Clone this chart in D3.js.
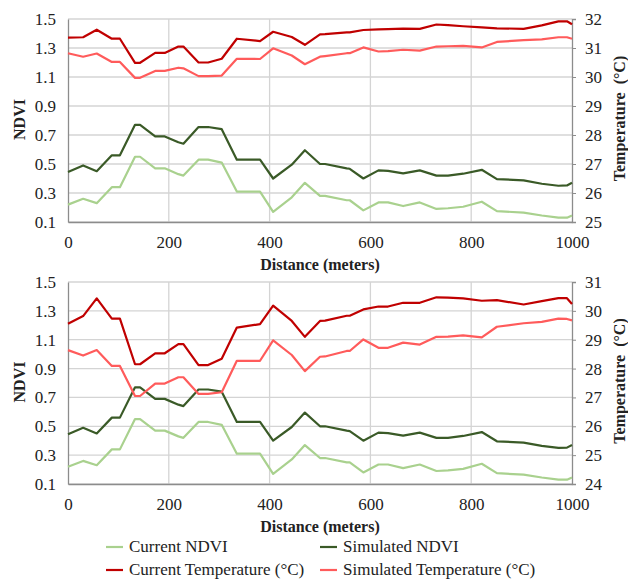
<!DOCTYPE html>
<html>
<head>
<meta charset="utf-8">
<script src="https://cdn.jsdelivr.net/npm/d3@7"></script>
<style>
    body { margin: 0; background: #fff; }
    svg text { font-family: 'Liberation Serif', 'DejaVu Serif', serif !important; fill: #222; }
</style>
</head>
<body>
<svg id="chart" width="628" height="584"></svg>
<script>
// - - - - - - - - - -
// data
// - - - - - - - - - -
const distance = [0, 30, 57, 87, 103, 133, 143, 173, 192, 219, 229, 259, 278, 305, 335, 381, 407, 444, 470, 500,
    510, 553, 559, 586, 616, 635, 665, 698, 731, 754, 784, 821, 851, 904, 940, 973, 990, 1000];

const currentNDVI = [0.22, 0.26, 0.23, 0.34, 0.34, 0.55, 0.55, 0.47, 0.47, 0.43, 0.42, 0.53, 0.53, 0.51, 0.31, 0.31, 0.17, 0.27, 0.37, 0.28,
    0.28, 0.25, 0.25, 0.18, 0.235, 0.235, 0.21, 0.235, 0.19, 0.195, 0.205, 0.24, 0.175, 0.165, 0.145, 0.13, 0.13, 0.145];

const simulatedNDVI = [0.445, 0.49, 0.45, 0.56, 0.56, 0.77, 0.77, 0.69, 0.69, 0.65, 0.64, 0.755, 0.755, 0.74, 0.53, 0.53, 0.40, 0.495, 0.595, 0.50,
    0.50, 0.47, 0.467, 0.40, 0.456, 0.453, 0.435, 0.456, 0.42, 0.42, 0.433, 0.46, 0.396, 0.387, 0.364, 0.35, 0.352, 0.37];

// top panel temperatures
const currentTempA = [31.36, 31.37, 31.63, 31.32, 31.32, 30.49, 30.49, 30.83, 30.83, 31.05, 31.05, 30.50, 30.50, 30.63, 31.32, 31.24, 31.56, 31.38, 31.11, 31.47,
    31.48, 31.54, 31.54, 31.62, 31.64, 31.65, 31.67, 31.66, 31.81, 31.79, 31.75, 31.71, 31.68, 31.66, 31.78, 31.92, 31.92, 31.82];
const simulatedTempA = [30.82, 30.70, 30.81, 30.52, 30.52, 29.97, 29.97, 30.21, 30.21, 30.32, 30.30, 30.03, 30.03, 30.05, 30.63, 30.62, 30.99, 30.74, 30.44, 30.70,
    30.72, 30.82, 30.82, 31.02, 30.88, 30.89, 30.94, 30.91, 31.05, 31.06, 31.07, 31.02, 31.21, 31.27, 31.30, 31.37, 31.37, 31.32];

// bottom panel temperatures
const currentTempB = [29.55, 29.82, 30.43, 29.73, 29.73, 28.15, 28.15, 28.53, 28.53, 28.85, 28.85, 28.12, 28.12, 28.34, 29.42, 29.54, 30.18, 29.65, 29.10, 29.65,
    29.66, 29.83, 29.83, 30.05, 30.15, 30.15, 30.28, 30.28, 30.47, 30.46, 30.43, 30.35, 30.37, 30.22, 30.34, 30.44, 30.44, 30.24];
const simulatedTempB = [28.64, 28.45, 28.64, 28.09, 28.09, 27.05, 27.05, 27.48, 27.48, 27.70, 27.70, 27.12, 27.12, 27.18, 28.27, 28.27, 28.98, 28.47, 27.91, 28.41,
    28.42, 28.61, 28.61, 29.01, 28.72, 28.72, 28.90, 28.83, 29.10, 29.11, 29.15, 29.08, 29.45, 29.57, 29.62, 29.73, 29.72, 29.67];

const xTicks = [0, 200, 400, 600, 800, 1000];
const ndviTicks = [0.1, 0.3, 0.5, 0.7, 0.9, 1.1, 1.3, 1.5];
const tempTicksA = [25, 26, 27, 28, 29, 30, 31, 32];
const tempTicksB = [24, 25, 26, 27, 28, 29, 30, 31];

const colors = {
    curNDVI: '#a9d18e',
    simNDVI: '#3a5a27',
    curTemp: '#c00000',
    simTemp: '#ff5b5b'
};

const svg = d3.select('#chart');
const left = 68, right = 572;

function panel(top, bottom, tempDomain, tempTicks, curT, simT) {
    const x = d3.scaleLinear().domain([0, 1000]).range([left, right]);
    const yN = d3.scaleLinear().domain([0.1, 1.5]).range([bottom, top]);
    const yT = d3.scaleLinear().domain(tempDomain).range([bottom, top]);

    const g = svg.append('g');

    // grid
    g.append('g').selectAll('line').data(ndviTicks).join('line')
        .attr('x1', left).attr('x2', right)
        .attr('y1', d => yN(d)).attr('y2', d => yN(d))
        .attr('stroke', '#d4d4d4').attr('stroke-width', 1.3);
    g.append('g').selectAll('line').data(xTicks.slice(1, -1)).join('line')
        .attr('x1', d => x(d)).attr('x2', d => x(d))
        .attr('y1', top).attr('y2', bottom)
        .attr('stroke', '#d4d4d4').attr('stroke-width', 1.3);

    // axes
    const ax = g.append('g').attr('transform', `translate(0,${bottom})`)
        .call(d3.axisBottom(x).tickValues(xTicks).tickFormat(d3.format('d')).tickSize(0).tickPadding(14));
    const axL = g.append('g').attr('transform', `translate(${left},0)`)
        .call(d3.axisLeft(yN).tickValues(ndviTicks).tickFormat(d3.format('.1f')).tickSize(0).tickPadding(12));
    const axR = g.append('g').attr('transform', `translate(${right},0)`)
        .call(d3.axisRight(yT).tickValues(tempTicks).tickFormat(d3.format('d')).tickSize(4).tickPadding(9));
    [ax, axL, axR].forEach(a => {
        a.attr('font-family', null);
        a.select('.domain').attr('stroke', '#8c8c8c').attr('stroke-width', 1.3);
        a.selectAll('.tick line').attr('stroke', '#8c8c8c');
        a.selectAll('text').attr('font-size', 17).attr('fill', '#222');
    });

    // lines
    const lineN = arr => d3.line().x((d, i) => x(distance[i])).y(d => yN(d))(arr);
    const lineT = arr => d3.line().x((d, i) => x(distance[i])).y(d => yT(d))(arr);
    const series = [
        { d: lineN(currentNDVI), c: colors.curNDVI },
        { d: lineN(simulatedNDVI), c: colors.simNDVI },
        { d: lineT(curT), c: colors.curTemp },
        { d: lineT(simT), c: colors.simTemp }
    ];
    g.append('g').selectAll('path').data(series).join('path')
        .attr('d', s => s.d).attr('fill', 'none')
        .attr('stroke', s => s.c).attr('stroke-width', 2.2)
        .attr('stroke-linejoin', 'round');

    // titles
    g.append('text').attr('x', (left + right) / 2).attr('y', bottom + 48)
        .attr('text-anchor', 'middle').attr('font-size', 16).attr('font-weight', 'bold')
        .text('Distance (meters)');
    g.append('text').attr('transform', `translate(25,${(top + bottom) / 2 - 1}) rotate(-90)`)
        .attr('text-anchor', 'middle').attr('font-size', 16).attr('font-weight', 'bold')
        .text('NDVI');
    g.append('text').attr('transform', `translate(625,${(top + bottom) / 2 - 2}) rotate(-90)`)
        .attr('text-anchor', 'middle').attr('font-size', 16).attr('font-weight', 'bold')
        .attr('xml:space', 'preserve')
        .text('Temperature  (°C)');
}

panel(19, 222, [25, 32], tempTicksA, currentTempA, simulatedTempA);
panel(282, 484, [24, 31], tempTicksB, currentTempB, simulatedTempB);

// legend
const legendItems = [
    { label: 'Current NDVI', c: colors.curNDVI, x: 106, y: 552 },
    { label: 'Simulated NDVI', c: colors.simNDVI, x: 320, y: 552 },
    { label: 'Current Temperature (°C)', c: colors.curTemp, x: 106, y: 575 },
    { label: 'Simulated Temperature (°C)', c: colors.simTemp, x: 320, y: 575 }
];
const lg = svg.append('g').selectAll('g').data(legendItems).join('g')
    .attr('transform', d => `translate(${d.x},${d.y})`);
lg.append('line').attr('x1', 0).attr('x2', 17).attr('y1', -5).attr('y2', -5)
    .attr('stroke', d => d.c).attr('stroke-width', 2.2);
lg.append('text').attr('x', 23).attr('y', 0).attr('font-size', 17).text(d => d.label);
</script>
</body>
</html>
